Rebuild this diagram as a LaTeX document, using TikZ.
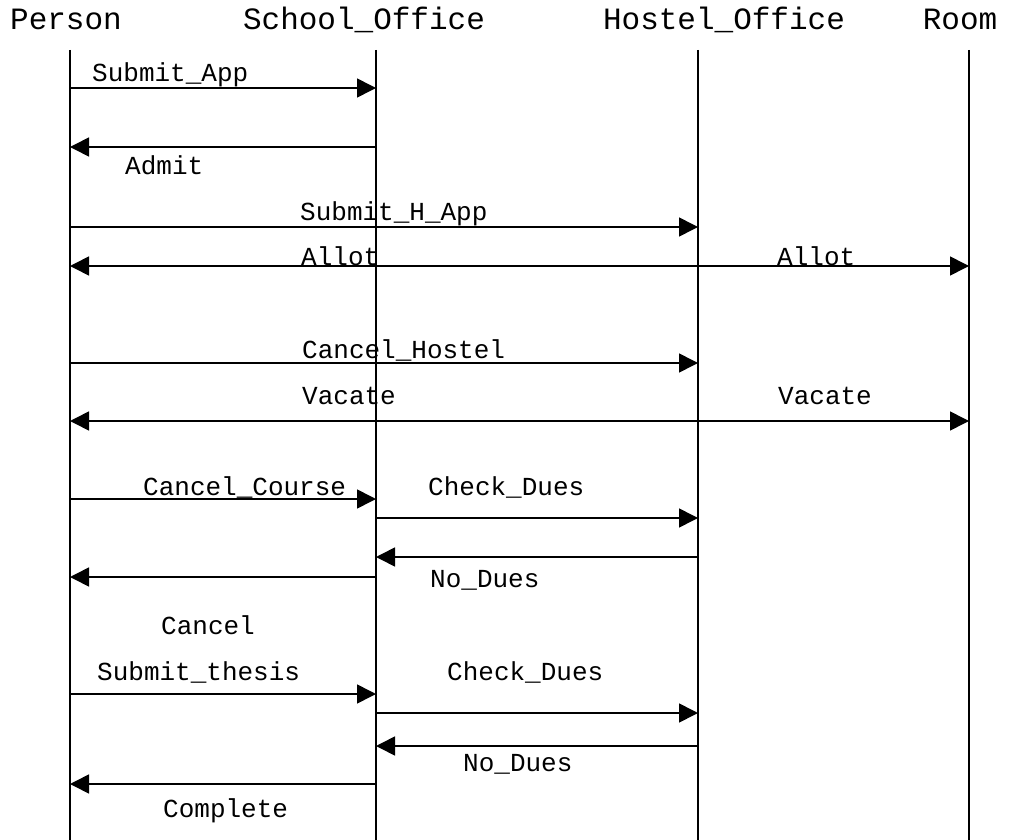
\documentclass[tikz,border=0pt]{standalone}
\usepackage{fontspec}
\setmainfont{Liberation Mono}
\usetikzlibrary{arrows.meta}
\tikzset{
  head/.style={font=\fontsize{31}{31}\selectfont, anchor=base, inner sep=0pt},
  lbl/.style={font=\fontsize{26}{26}\selectfont, anchor=base west, inner sep=0pt},
  life/.style={line width=1.6pt},
  msg/.style={line width=1.6pt, -{Triangle[length=19pt,width=19pt]}},
  bimsg/.style={line width=1.6pt, {Triangle[length=19pt,width=19pt]}-{Triangle[length=19pt,width=19pt]}}
}
\begin{document}
\begin{tikzpicture}[x=1pt,y=-1pt]
\useasboundingbox (0,0) rectangle (1015,840);
% headers
\node[head] (hP) at (66,30) {Person};
\node[head] (hS) at (364,30) {School\_Office};
\node[head] (hH) at (724,30) {Hostel\_Office};
\node[head] (hR) at (960,30) {Room};
% lifelines
\coordinate (Pt) at (70,50);  \coordinate (Pb) at (70,840);
\coordinate (St) at (376,50); \coordinate (Sb) at (376,840);
\coordinate (Ht) at (698,50); \coordinate (Hb) at (698,840);
\coordinate (Rt) at (969,50); \coordinate (Rb) at (969,840);
\draw[life] (Pt) -- (Pb);
\draw[life] (St) -- (Sb);
\draw[life] (Ht) -- (Hb);
\draw[life] (Rt) -- (Rb);
% message end points
\foreach \n/\y in {1/88,2/147,3/227,4/266,5/363,6/421,7/499,8/518,9/557,10/577,11/694,12/713,13/746,14/784}{
  \coordinate (P\n) at (70,\y);
  \coordinate (S\n) at (376,\y);
  \coordinate (H\n) at (698,\y);
  \coordinate (R\n) at (969,\y);
}
% messages
\draw[msg] (P1) -- (S1);
\node[lbl] (l1) at (92,82) {Submit\_App};
\draw[msg] (S2) -- (P2);
\node[lbl] (l2) at (125,175) {Admit};
\draw[msg] (P3) -- (H3);
\node[lbl] (l3) at (300,220) {Submit\_H\_App};
\draw[bimsg] (P4) -- (R4);
\node[lbl] (l4a) at (301,265) {Allot};
\node[lbl] (l4b) at (777,265) {Allot};
\draw[msg] (P5) -- (H5);
\node[lbl] (l5) at (302,358) {Cancel\_Hostel};
\draw[bimsg] (P6) -- (R6);
\node[lbl] (l6a) at (302,404) {Vacate};
\node[lbl] (l6b) at (778,404) {Vacate};
\draw[msg] (P7) -- (S7);
\node[lbl] (l7) at (143,495) {Cancel\_Course};
\draw[msg] (S8) -- (H8);
\node[lbl] (l8) at (428,495) {Check\_Dues};
\draw[msg] (H9) -- (S9);
\node[lbl] (l9) at (430,587) {No\_Dues};
\draw[msg] (S10) -- (P10);
\node[lbl] (l10) at (161,634) {Cancel};
\draw[msg] (P11) -- (S11);
\node[lbl] (l11) at (97,680) {Submit\_thesis};
\draw[msg] (S12) -- (H12);
\node[lbl] (l12) at (447,680) {Check\_Dues};
\draw[msg] (H13) -- (S13);
\node[lbl] (l13) at (463,771) {No\_Dues};
\draw[msg] (S14) -- (P14);
\node[lbl] (l14) at (163,817) {Complete};
\end{tikzpicture}
\end{document}
